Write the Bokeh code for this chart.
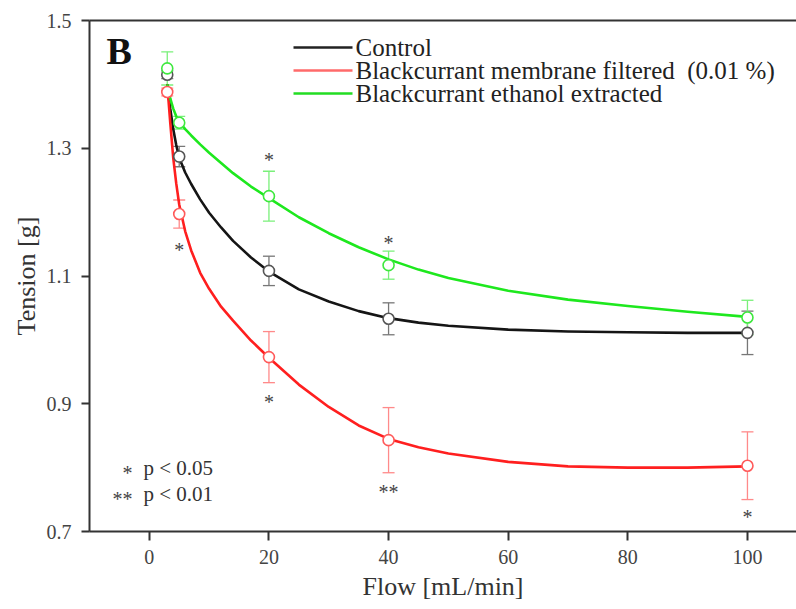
from bokeh.plotting import figure
from bokeh.models import Range1d, LinearAxis, FixedTicker, ColumnDataSource, Whisker
from bokeh.core.properties import value
from bokeh.embed import file_html
from bokeh.resources import INLINE

# ---------------- data ----------------
flow = [3, 5, 20, 40, 100]

control = [1.415, 1.287, 1.108, 1.033, 1.011]
control_err = [0.006, 0.016, 0.023, 0.025, 0.034]

membrane = [1.388, 1.197, 0.973, 0.843, 0.803]
membrane_err = [0.006, 0.022, 0.040, 0.051, 0.053]

ethanol = [1.425, 1.340, 1.225, 1.117, 1.035]
ethanol_err = [0.026, 0.010, 0.039, 0.022, 0.027]

# fitted curves
curve_x = [3, 3.5, 4, 4.5, 5, 6, 7, 8.5, 10, 12, 14, 17, 20, 25, 30, 35, 40, 45, 50,
           60, 70, 80, 90, 100]
control_fit = [1.400, 1.362, 1.330, 1.305, 1.285, 1.262, 1.244, 1.220, 1.199, 1.176, 1.155,
               1.129, 1.107, 1.079, 1.060, 1.045, 1.034, 1.027, 1.022, 1.016, 1.013, 1.012,
               1.011, 1.011]
membrane_fit = [1.400, 1.340, 1.285, 1.245, 1.212, 1.170, 1.140, 1.105, 1.080, 1.052, 1.030,
                0.999, 0.972, 0.930, 0.895, 0.866, 0.845, 0.832, 0.822, 0.809, 0.802, 0.800,
                0.800, 0.802]
ethanol_fit = [1.400, 1.378, 1.362, 1.350, 1.341, 1.330, 1.320, 1.306, 1.293, 1.277, 1.261,
               1.240, 1.222, 1.192, 1.167, 1.145, 1.126, 1.110, 1.097, 1.077, 1.063, 1.053,
               1.044, 1.036]

# significance marks
sig_x = [5, 20, 20, 40, 40, 100]
sig_y = [1.148, 1.289, 0.911, 1.159, 0.770, 0.731]
sig_text = ["*", "*", "*", "*", "**", "*"]

series_names = ["Control", "Blackcurrant membrane filtered\u00a0\u00a0(0.01 %)",
                "Blackcurrant ethanol extracted"]
x_ticks = [0, 20, 40, 60, 80, 100]
y_ticks = [0.7, 0.9, 1.1, 1.3, 1.5]

# ---------------- layout ----------------
W, H = 796, 609
FL, FT, FB = 89, 20, 531
X0, X1 = -10, 108.2
Y0, Y1 = 0.7, 1.5
FONT = "Liberation Serif"

def dx(px):
    return X0 + (px - FL) / (W - FL) * (X1 - X0)

def dy(py):
    return Y1 - (py - FT) / (FB - FT) * (Y1 - Y0)

p = figure(width=W, height=H, output_backend="svg", toolbar_location=None,
           x_range=Range1d(X0, X1), y_range=Range1d(Y0, Y1),
           min_border_left=FL, min_border_right=0, min_border_top=FT,
           min_border_bottom=H - FB)
p.grid.visible = False
p.outline_line_color = None
p.background_fill_color = "white"
p.border_fill_color = "white"

for ax in (p.xaxis[0], p.yaxis[0]):
    ax.axis_line_width = 2
    ax.axis_line_color = "#333333"
    ax.major_tick_line_color = "#333333"
    ax.major_tick_line_width = 2
    ax.major_tick_in = 0
    ax.minor_tick_line_color = None
    ax.major_label_text_font = FONT
    ax.major_label_text_font_size = "20px"
    ax.major_label_text_color = "#444444"
    ax.axis_label_text_font = FONT
    ax.axis_label_text_font_style = "normal"
    ax.axis_label_text_font_size = "26px"
    ax.axis_label_text_color = "#333333"

p.xaxis[0].ticker = FixedTicker(ticks=x_ticks)
p.xaxis[0].major_tick_out = 9
p.xaxis[0].major_label_standoff = 9
p.xaxis[0].axis_label = "Flow [mL/min]"
p.xaxis[0].axis_label_standoff = 5

p.yaxis[0].ticker = FixedTicker(ticks=y_ticks)
p.yaxis[0].major_tick_out = 8
p.yaxis[0].major_label_standoff = 10
p.yaxis[0].axis_label = "Tension [g]"
p.yaxis[0].axis_label_standoff = 3

top = LinearAxis(ticker=FixedTicker(ticks=[]), axis_line_width=2, axis_line_color="#333333",
                 major_tick_line_color=None, minor_tick_line_color=None,
                 major_label_text_font_size="0px")
p.add_layout(top, "above")

colors = ["#151515", "#ff1f1f", "#1ee81e"]
marker_colors = ["#555555", "#ff5a5a", "#3ee83e"]
err_colors = ["#777777", "#ff8a8a", "#7af07a"]
fits = [control_fit, membrane_fit, ethanol_fit]
means = [control, membrane, ethanol]
errs = [control_err, membrane_err, ethanol_err]

# curves
for fit, c in zip(fits, colors):
    p.line(curve_x, fit, line_color=c, line_width=2.6, line_join="round")

# error bars and points
for m, e, ec, mc in zip(means, errs, err_colors, marker_colors):
    src = ColumnDataSource(dict(x=flow, y=m,
                                lo=[a - b for a, b in zip(m, e)],
                                hi=[a + b for a, b in zip(m, e)]))
    wh = Whisker(source=src, base="x", lower="lo", upper="hi", dimension="height",
                 line_color=ec, line_width=1.3)
    wh.upper_head.size = 12
    wh.lower_head.size = 12
    wh.upper_head.line_color = ec
    wh.lower_head.line_color = ec
    wh.upper_head.line_width = 1.3
    wh.lower_head.line_width = 1.3
    p.add_layout(wh)
    p.scatter("x", "y", source=src, marker="circle", size=11, fill_color="white",
              line_color=mc, line_width=1.6)

# significance asterisks
p.text(sig_x, sig_y, text=sig_text, text_font=value(FONT), text_font_size="20px",
       text_color="#444444", text_align="center", text_baseline="middle", y_offset=5)

# legend (drawn)
leg_y = [47, 70, 93]
p.segment(x0=[dx(293)] * 3, x1=[dx(352)] * 3, y0=[dy(v) for v in leg_y],
          y1=[dy(v) for v in leg_y], line_color=["#222222", "#ff6a6a", "#22dd22"], line_width=2.6)
p.text([dx(355)] * 3, [dy(v) for v in leg_y], text=series_names, text_font=value(FONT),
       text_font_size="25px", text_color="#222222", text_align="left", text_baseline="middle")

# panel letter
p.text([dx(106)], [dy(50)], text=["B"], text_font=value(FONT), text_font_size="38px",
       text_font_style="bold", text_color="#111111", text_align="left", text_baseline="middle")

# significance key
p.text([dx(132), dx(132)], [dy(467), dy(493)], text=["*", "**"], text_font=value(FONT),
       text_font_size="20px", text_color="#444444", text_align="right", text_baseline="middle",
       y_offset=5)
p.text([dx(143), dx(143)], [dy(467), dy(493)], text=["p < 0.05", "p < 0.01"],
       text_font=value(FONT), text_font_size="21px", text_color="#333333",
       text_align="left", text_baseline="middle")

open("out.html", "w").write(file_html(p, INLINE))
